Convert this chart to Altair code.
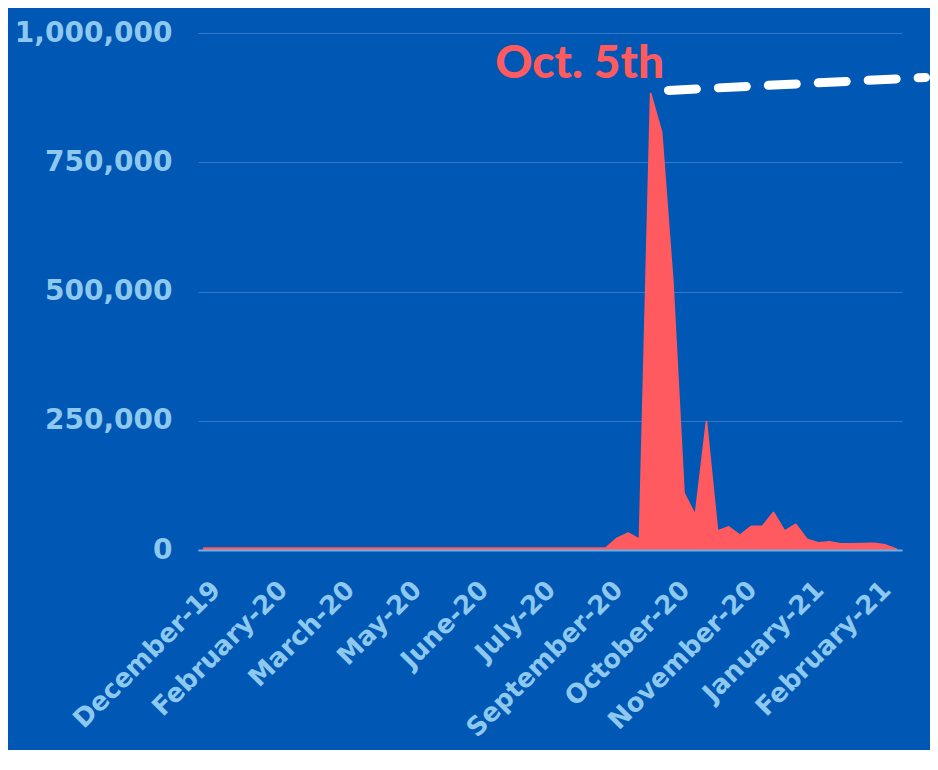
import altair as alt
import pandas as pd

# weekly points (index 0 = week of 30 Dec 2019)
week = list(range(63))
attempts = [
    4000, 4000, 4000, 4000, 4000, 4000, 4000, 4000, 4000, 4000,
    4000, 4000, 4000, 4000, 4000, 4000, 4000, 4000, 4000, 4000,
    4000, 4000, 4000, 4000, 4000, 4000, 4000, 4000, 4000, 4000,
    4000, 4000, 4000, 4000, 4000, 4000, 4000, 23000, 33000, 21000,
    884000, 808000, 520000, 110000, 68000, 250000, 37000, 45000, 29000, 46000,
    46000, 73000, 37000, 50000, 21000, 14000, 16000, 12000, 12000, 12500,
    13000, 10000, 2000,
]

tick_weeks = [0, 6, 12, 18, 24, 30, 36, 42, 48, 54, 60]
tick_labels = ["December-19", "February-20", "March-20", "May-20", "June-20",
               "July-20", "September-20", "October-20", "November-20",
               "January-21", "February-21"]
y_ticks = [0, 250000, 500000, 750000, 1000000]

# annotation
note_text = ["Oct. 5th"]
note_x = [41.2]
note_y = [913000]
line_x = [41.6]
line_x2 = [64.6]
line_y = [889000]
line_y2 = [914000]

BG = "#0057B4"
RED = "#FF5A5F"
LABEL = "#8DC8EE"
GRID = "#3278C8"
DOMAIN = "#6FAEE3"

df = pd.DataFrame({"week": week, "value": attempts})
label_expr = "[" + ",".join(f"'{t}'" for t in tick_labels) + "][round(datum.value/6)]"

x_enc = alt.X(
    "week:Q",
    scale=alt.Scale(domain=[-0.5, 62.5], nice=False, zero=False),
    axis=alt.Axis(
        values=tick_weeks, labelExpr=label_expr, labelAngle=-45,
        labelAlign="right", labelBaseline="top", labelOffset=3,
        labelPadding=26, labelFlush=False, labelOverlap=False, labelLimit=0,
        grid=False, ticks=False, domainColor=DOMAIN, domainWidth=2,
        labelFont="DejaVu Sans", labelFontWeight="bold", labelFontSize=26,
        labelColor=LABEL, title=None, zindex=1,
    ),
)
y_enc = alt.Y(
    "value:Q",
    scale=alt.Scale(domain=[0, 1000000], nice=False),
    axis=alt.Axis(
        values=y_ticks, format=",.0f", grid=True, gridColor=GRID, gridWidth=1,
        domain=False, ticks=False, labelPadding=26, labelFont="DejaVu Sans",
        labelFontWeight="bold", labelFontSize=28, labelColor=LABEL, title=None,
    ),
)

area = alt.Chart(df).mark_area(
    color=RED, stroke=RED, strokeWidth=1.5, strokeJoin="bevel"
).encode(x=x_enc, y=y_enc)

line_df = pd.DataFrame({"week": line_x, "week2": line_x2,
                        "value": line_y, "value2": line_y2})
rule = alt.Chart(line_df).mark_rule(
    color="white", strokeWidth=9, strokeDash=[28, 22], strokeCap="round"
).encode(x="week:Q", x2="week2:Q", y="value:Q", y2="value2:Q")

text_df = pd.DataFrame({"week": note_x, "value": note_y, "t": note_text})
text = alt.Chart(text_df).mark_text(
    align="right", baseline="alphabetic", font="Lato", fontSize=46,
    fontWeight=900, color=RED
).encode(x="week:Q", y="value:Q", text="t:N")

chart = alt.layer(area, rule, text).properties(
    width=704, height=517,
    autosize=alt.AutoSizeParams(type="none"),
    padding={"left": 190, "top": 25, "right": 28, "bottom": 200},
    background=BG,
).configure_view(stroke=None)

chart.save("out.html", embed_options={"renderer": "svg", "actions": False})
